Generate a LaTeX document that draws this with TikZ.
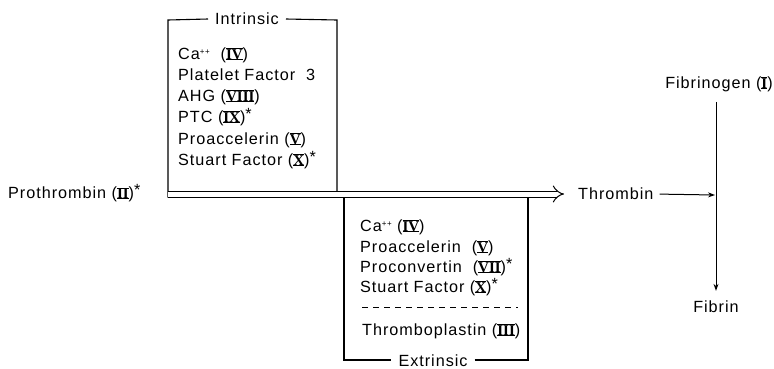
\documentclass[tikz,border=0pt]{standalone}
\usepackage{fontspec}
\setmainfont{Liberation Sans}[LetterSpace=6]
\newfontfamily\rnfont{Liberation Serif}
\usetikzlibrary{arrows.meta}
\newcommand\rnum[1]{\leavevmode\hbox{\setbox0\hbox{\rnfont\bfseries\fontsize{15}{15}\selectfont #1}\rlap{\rule[-0.8pt]{\wd0}{1pt}}\rlap{\rule[\ht0]{\wd0}{1pt}}\box0}}
\newcommand\astr{\raisebox{3pt}{*}}
\newcommand\capp{Ca\raisebox{5pt}{\fontsize{8}{8}\selectfont ++}}
\begin{document}
\begin{tikzpicture}[x=1pt,y=-1pt,
  txt/.style={font=\fontsize{16.2}{18}\selectfont, inner sep=0pt},
  item/.style={txt, anchor=base west},
  boxline/.style={line width=1.1pt},
  lbl/.style={txt, inner sep=7pt}]
\useasboundingbox (0,0) rectangle (774,368);
% intrinsic box
\node[lbl] (intlbl) at (247,19) {Intrinsic};
\node[item] (i1) at (178,59) {\capp\ \ (\rnum{IV})};
\node[item] (i2) at (178,80) {Platelet Factor\ \ 3};
\node[item] (i3) at (178,101) {AHG (\rnum{VIII})};
\node[item] (i4) at (178,122) {PTC (\rnum{IX})\astr};
\node[item] (i5) at (178,144) {Proaccelerin (\rnum{V})};
\node[item] (i6) at (178,165) {Stuart Factor (\rnum{X})\astr};
\draw[boxline] (intlbl.west) -- (168,20) -- (168,197.5);
\draw[boxline] (intlbl.east) -- (337,20) -- (337,191);
% main double arrow
\node[txt, anchor=west] (proth) at (8,193) {Prothrombin (\rnum{II})\astr};
\node[txt, anchor=west] (thromb) at (578,194) {Thrombin};
\coordinate (pstart) at (168,194);
\draw[line width=1pt, double, double distance=5pt, -{Implies}, shorten >=14pt] (pstart) -- (thromb.west);
% extrinsic box
\node[lbl, anchor=base] (extlbl) at (433,366) {Extrinsic};
\node[item] (e1) at (360,231) {\capp\ (\rnum{IV})};
\node[item] (e2) at (360,252) {Proaccelerin\ \ (\rnum{V})};
\node[item] (e3) at (360,272) {Proconvertin\ \ (\rnum{VII})\astr};
\node[item] (e4) at (360,292) {Stuart Factor (\rnum{X})\astr};
\node[item] (e5) at (362,335) {Thromboplastin (\rnum{III})};
\coordinate (d1) at (362,307);
\coordinate (d2) at (518,307);
\draw[line width=0.9pt, dash pattern=on 6pt off 5pt] (d1) -- (d2);
\draw[boxline] (344,197) -- (344,360) -- (extlbl.west |- 0,360);
\draw[boxline] (extlbl.east |- 0,360) -- (528,360) -- (528,197);
% fibrinogen to fibrin
\node[txt] (fibg) at (719,84) {Fibrinogen (\rnum{I})};
\node[txt] (fibr) at (716,307) {Fibrin};
\draw[line width=1pt, -{Stealth[length=7pt,width=5pt]}, shorten <=10pt, shorten >=10pt] (fibg.south -| fibr) -- (fibr.north);
\coordinate (join) at (715,195);
\draw[line width=1pt, -{Stealth[length=7pt,width=5pt]}, shorten <=6pt] (thromb.east) -- (join);
\end{tikzpicture}
\end{document}
